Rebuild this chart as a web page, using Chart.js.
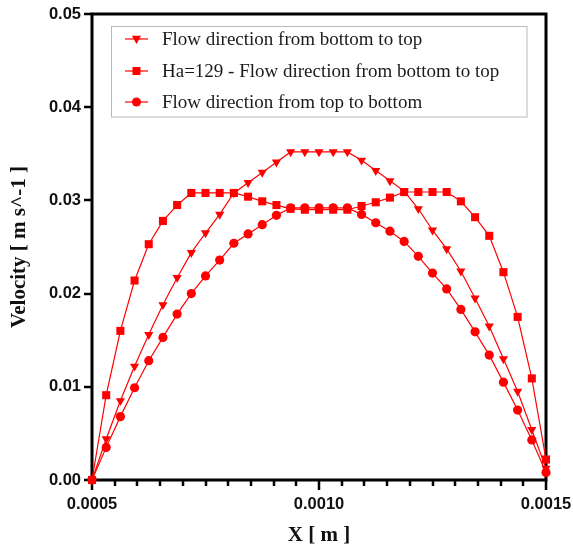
<!DOCTYPE html>
<html>
<head>
<meta charset="utf-8">
<script src="https://cdn.jsdelivr.net/npm/chart.js@4.4.1/dist/chart.umd.min.js"></script>
<style>
  html, body { margin: 0; padding: 0; background: #fff; }
  #wrap { width: 573px; height: 550px; position: relative; }
</style>
</head>
<body>
<div id="wrap"><canvas id="lineChart"></canvas></div>
<script>
// x positions [m]
var xValues = [0.0005, 0.00053125, 0.0005625, 0.00059375, 0.000625, 0.00065625, 0.0006875, 0.00071875,
    0.00075, 0.00078125, 0.0008125, 0.00084375, 0.000875, 0.00090625, 0.0009375, 0.00096875,
    0.001, 0.00103125, 0.0010625, 0.00109375, 0.001125, 0.00115625, 0.0011875, 0.00121875,
    0.00125, 0.00128125, 0.0013125, 0.00134375, 0.001375, 0.00140625, 0.0014375, 0.00146875, 0.0015];

// velocity [m s^-1]
var bottomToTop = [0, 0.0044, 0.0085, 0.0122, 0.0156, 0.0188, 0.0217, 0.0244,
    0.0265, 0.0285, 0.0308, 0.0319, 0.0330, 0.0341, 0.0352, 0.0352,
    0.0352, 0.0352, 0.0352, 0.0343, 0.0332, 0.0321, 0.0310, 0.0291,
    0.0268, 0.0248, 0.0224, 0.0195, 0.0165, 0.0130, 0.0095, 0.0054, 0.00125];

var ha129 = [0, 0.0091, 0.0160, 0.0214, 0.0253, 0.0278, 0.0295, 0.0308,
    0.0308, 0.0308, 0.0308, 0.0304, 0.0299, 0.0295, 0.0291, 0.0290,
    0.0290, 0.0290, 0.0290, 0.0294, 0.0298, 0.0303, 0.0309, 0.0309,
    0.0309, 0.0309, 0.0299, 0.0282, 0.0262, 0.0223, 0.0175, 0.0109, 0.0022];

var topToBottom = [0, 0.0035, 0.0068, 0.0099, 0.0128, 0.0153, 0.0178, 0.0200,
    0.0219, 0.0236, 0.0254, 0.0264, 0.0274, 0.0284, 0.0292, 0.0292,
    0.0292, 0.0292, 0.0292, 0.0285, 0.0276, 0.0267, 0.0256, 0.0240,
    0.0222, 0.0205, 0.0183, 0.0159, 0.0134, 0.0105, 0.0075, 0.0043, 0.0008];

var seriesLabels = ['Flow direction from bottom to top',
    'Ha=129 - Flow direction from bottom to top',
    'Flow direction from top to bottom'];

var xTickLabels = [0.0005, 0.0010, 0.0015];
var yTickLabels = [0, 0.01, 0.02, 0.03, 0.04, 0.05];

var RED = 'rgb(255,0,0)';

function toPoints(arr) {
    return arr.map(function (v, i) { return { x: xValues[i], y: v }; });
}

// draws one marker the same way for legend
function marker(ctx, style, x, y) {
    ctx.fillStyle = RED;
    ctx.beginPath();
    if (style === 'rect') {
        ctx.rect(x - 4, y - 4, 8, 8);
    } else if (style === 'circle') {
        ctx.arc(x, y, 4.5, 0, Math.PI * 2);
    } else {
        ctx.moveTo(x - 4.6, y - 3.2);
        ctx.lineTo(x + 4.6, y - 3.2);
        ctx.lineTo(x, y + 5);
        ctx.closePath();
    }
    ctx.fill();
}

var frame = {
    id: 'frame',
    beforeDatasetsDraw: function (chart) {
        var ctx = chart.ctx, a = chart.chartArea;
        var xs = chart.scales.x, ys = chart.scales.y;
        ctx.save();
        ctx.strokeStyle = '#000';
        // ticks
        ctx.lineWidth = 2.5;
        ctx.beginPath();
        yTickLabels.forEach(function (v) {
            var p = Math.round(ys.getPixelForValue(v));
            ctx.moveTo(a.left - 8, p);
            ctx.lineTo(a.left, p);
        });
        for (var i = 0; i <= 20; i++) {
            var p = Math.round(xs.getPixelForValue(0.0005 + i * 0.00005));
            ctx.moveTo(p, a.bottom);
            ctx.lineTo(p, a.bottom + (i % 10 === 0 ? 10 : 6));
        }
        ctx.stroke();
        // box
        ctx.lineWidth = 3;
        ctx.strokeRect(a.left, a.top, a.right - a.left, a.bottom - a.top);
        ctx.restore();
    },
    afterDraw: function (chart) {
        var ctx = chart.ctx, a = chart.chartArea;
        ctx.save();
        // axis titles
        ctx.fillStyle = '#111';
        ctx.font = 'bold 21px "Liberation Serif", "Times New Roman", serif';
        ctx.textAlign = 'center';
        ctx.textBaseline = 'middle';
        ctx.fillText('X [ m ]', (a.left + a.right) / 2, 536);
        ctx.translate(20, (a.top + a.bottom) / 2);
        ctx.rotate(-Math.PI / 2);
        ctx.fillText('Velocity [ m s^-1 ]', 0, 0);
        ctx.restore();

        // legend box
        ctx.save();
        ctx.fillStyle = '#fff';
        ctx.fillRect(111.5, 26.5, 415.5, 90.5);
        ctx.strokeStyle = '#b8b8b8';
        ctx.lineWidth = 1;
        ctx.strokeRect(111.5, 26.5, 415.5, 90.5);
        var styles = ['triangle', 'rect', 'circle'];
        var rows = [39, 71, 102];
        ctx.font = '19px "Liberation Serif", "Times New Roman", serif';
        ctx.textBaseline = 'middle';
        for (var k = 0; k < 3; k++) {
            ctx.strokeStyle = RED;
            ctx.lineWidth = 1.2;
            ctx.beginPath();
            ctx.moveTo(125, rows[k]);
            ctx.lineTo(148, rows[k]);
            ctx.stroke();
            marker(ctx, styles[k], 136.5, rows[k]);
            ctx.fillStyle = '#1a1a1a';
            ctx.fillText(seriesLabels[k], 162, rows[k] + 1);
        }
        ctx.restore();
    }
};

function ds(label, arr, style, radius, rot) {
    return {
        label: label,
        data: toPoints(arr),
        borderColor: RED,
        backgroundColor: RED,
        borderWidth: 1.2,
        pointStyle: style,
        pointRadius: radius,
        pointRotation: rot,
        pointBorderWidth: 0,
        pointBackgroundColor: RED,
        tension: 0,
        clip: false
    };
}

var ctx = document.getElementById('lineChart').getContext('2d');
var lineChart = new Chart(ctx, {
    type: 'line',
    data: {
        datasets: [
            ds(seriesLabels[0], bottomToTop, 'triangle', 5.3, 180),
            ds(seriesLabels[1], ha129, 'rect', 5.7, 0),
            ds(seriesLabels[2], topToBottom, 'circle', 4.6, 0)
        ]
    },
    options: {
        responsive: true,
        maintainAspectRatio: false,
        animation: false,
        layout: { padding: { top: 14, right: 27, left: 0, bottom: 0 } },
        plugins: { legend: { display: false }, tooltip: { enabled: false } },
        scales: {
            x: {
                type: 'linear',
                min: 0.0005,
                max: 0.0015,
                afterBuildTicks: function (s) { s.ticks = xTickLabels.map(function (v) { return { value: v }; }); },
                afterFit: function (s) { s.height = 70; s.paddingLeft = 0; s.paddingRight = 0; },
                grid: { display: false, drawTicks: false },
                border: { display: false },
                ticks: {
                    padding: 15,
                    color: '#111',
                    font: { family: '"Liberation Sans", Arial, sans-serif', size: 16.5, weight: 'bold' },
                    callback: function (v) { return Number(v).toFixed(4); }
                }
            },
            y: {
                min: 0,
                max: 0.05,
                afterBuildTicks: function (s) { s.ticks = yTickLabels.map(function (v) { return { value: v }; }); },
                afterFit: function (s) { s.width = 92; s.paddingTop = 0; s.paddingBottom = 0; },
                grid: { display: false, drawTicks: false },
                border: { display: false },
                ticks: {
                    padding: 11,
                    color: '#111',
                    font: { family: '"Liberation Sans", Arial, sans-serif', size: 16.5, weight: 'bold' },
                    callback: function (v) { return Number(v).toFixed(2); }
                }
            }
        }
    },
    plugins: [frame]
});
</script>
</body>
</html>
